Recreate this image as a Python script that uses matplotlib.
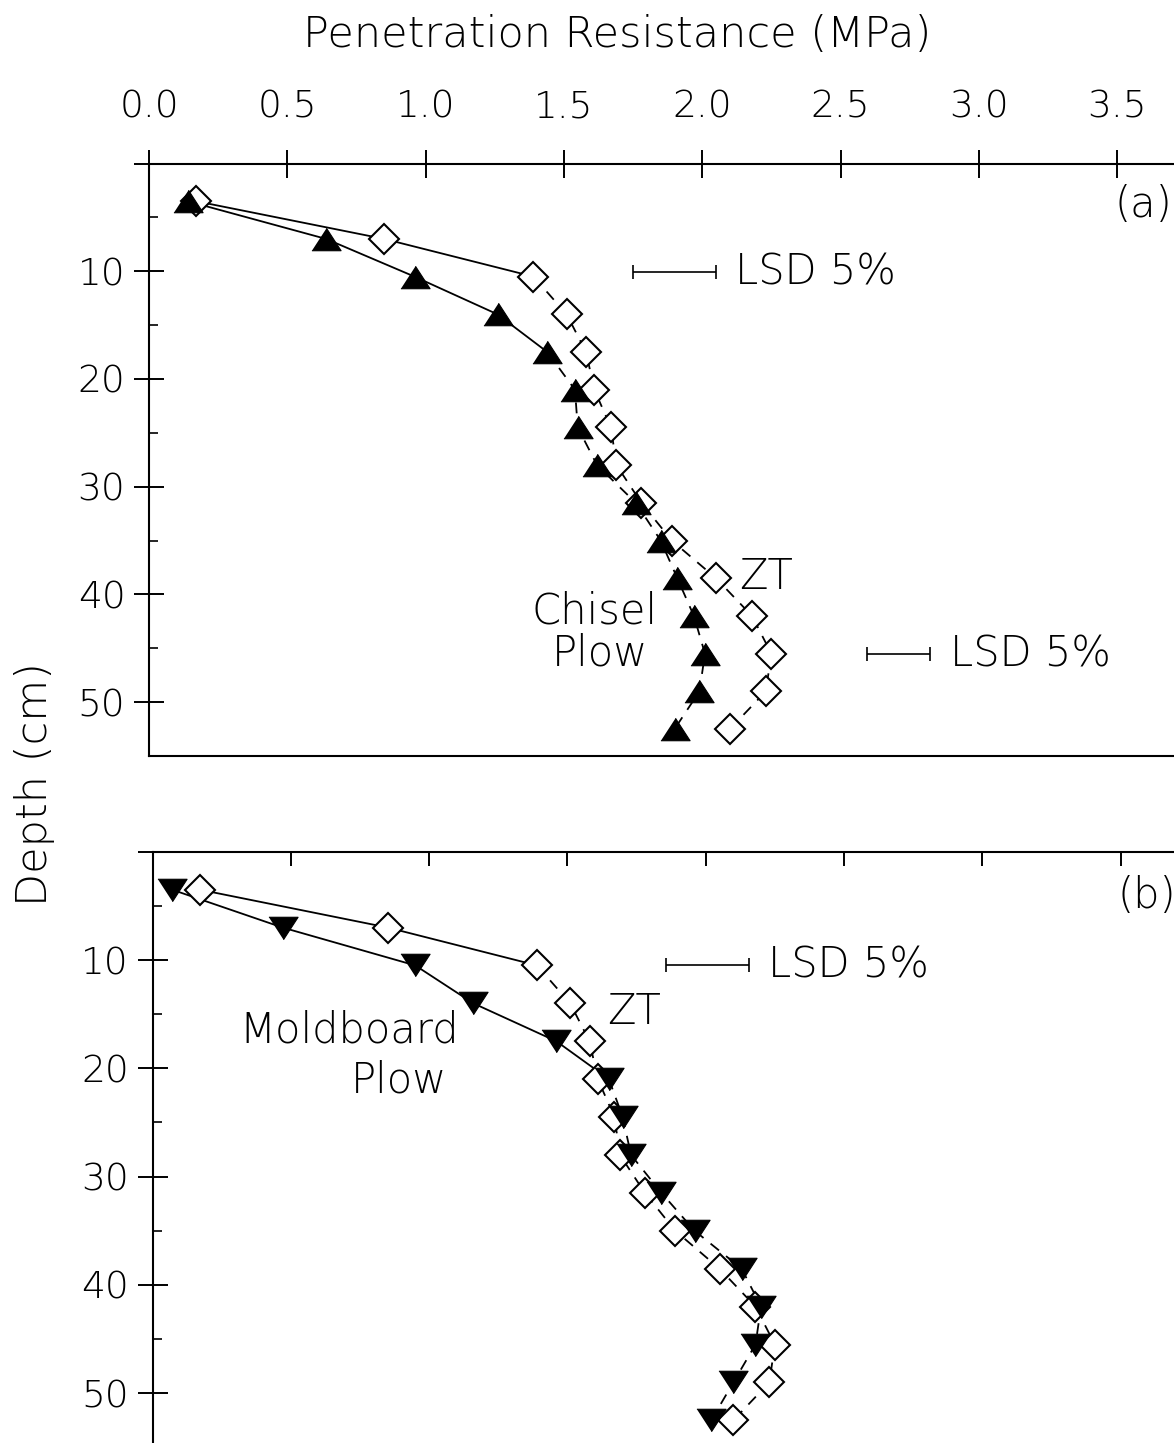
import matplotlib.pyplot as plt
import numpy as np

# Sampling depths (cm) and cone penetration resistance (MPa)
depth = [3.5, 7.0, 10.5, 14.0, 17.5, 21.0, 24.5, 28.0, 31.5, 35.0, 38.5, 42.0, 45.5, 49.0, 52.5]
zt = [0.17, 0.85, 1.39, 1.51, 1.58, 1.61, 1.67, 1.69, 1.78, 1.89, 2.05, 2.18, 2.25, 2.23, 2.10]
chisel = [0.14, 0.64, 0.96, 1.26, 1.44, 1.54, 1.55, 1.62, 1.76, 1.85, 1.91, 1.97, 2.01, 1.99, 1.90]
moldboard = [0.07, 0.47, 0.95, 1.16, 1.46, 1.65, 1.70, 1.73, 1.84, 1.96, 2.13, 2.20, 2.18, 2.10, 2.02]

# number of leading points joined by a solid line (rest dashed)
zt_solid = 3
chisel_solid = 5
moldboard_solid = 6

# LSD (5%) bars: (left end, length, depth)
lsd_a = [(1.75, 0.30, 10.1), (2.595, 0.23, 45.5)]
lsd_b = [(1.855, 0.30, 10.5)]

x_ticks = [0.0, 0.5, 1.0, 1.5, 2.0, 2.5, 3.0, 3.5, 4.0]
x_labels = ["0.0", "0.5", "1.0", "1.5", "2.0", "2.5", "3.0", "3.5", ""]
y_ticks = [0, 10, 20, 30, 40, 50]
y_labels = ["", "10", "20", "30", "40", "50"]

plt.rcParams["font.family"] = ["DejaVu Sans"]
plt.rcParams["font.weight"] = "light"

W, H = 1174, 1443
fig = plt.figure(figsize=(W / 100, H / 100), dpi=100)

px_per_mpa = 276.6
ax_a = fig.add_axes([149 / W, 1 - 756 / H, 4.0 * px_per_mpa / W, (756 - 163.5) / H])
ax_b = fig.add_axes([152.5 / W, 1 - 1447.4 / H, 4.0 * px_per_mpa / W, (1447.4 - 851.7) / H])

TXT = 30
LABEL = 31
TICK = 27
LW = 1.3
dash = (0, (6, 5))


def draw_profile(ax, x, solid_n, marker, filled):
    ax.plot(x[:solid_n], depth[:solid_n], color="black", lw=LW, zorder=1)
    ax.plot(x[solid_n - 1:], depth[solid_n - 1:], color="black", lw=LW,
            linestyle=dash, zorder=1)
    if filled:
        ax.plot(x, depth, linestyle="none", marker=marker, ms=21,
                mfc="black", mec="black", mew=0.8, zorder=3)
    else:
        ax.plot(x, depth, linestyle="none", marker=marker, ms=15,
                mfc="white", mec="black", mew=1.5, zorder=2)


tri_up = [(-1, -0.77), (1, -0.77), (0, 0.77)]
tri_down = [(-1, 0.77), (1, 0.77), (0, -0.77)]

draw_profile(ax_a, zt, zt_solid, "D", False)
draw_profile(ax_a, chisel, chisel_solid, tri_up, True)
draw_profile(ax_b, zt, zt_solid, "D", False)
draw_profile(ax_b, moldboard, moldboard_solid, tri_down, True)

for ax, bars in ((ax_a, lsd_a), (ax_b, lsd_b)):
    for x0, lsd, d in bars:
        ax.errorbar(x0 + lsd / 2, d, xerr=lsd / 2, fmt="none", ecolor="black",
                    elinewidth=1.2, capsize=5, capthick=1.2)
        ax.text(x0 + lsd + 0.07, d, "LSD 5%", fontsize=TXT, ha="left", va="center")

for ax in (ax_a, ax_b):
    ax.set_xlim(0, 4.0)
    ax.set_ylim(55, 0)
    ax.set_xticks(x_ticks)
    ax.set_yticks(y_ticks)
    ax.set_yticklabels(y_labels)
    ax.set_yticks(np.arange(5, 55, 10), minor=True)
    ax.spines["right"].set_visible(False)
    for s in ax.spines.values():
        s.set_linewidth(1.5)
    ax.tick_params(axis="y", which="major", direction="inout", length=22, width=1.4,
                   labelsize=TICK, pad=6)
    ax.tick_params(axis="y", which="minor", direction="in", length=6.5, width=1.2)
    ax.xaxis.set_ticks_position("top")

ax_a.set_xticklabels(x_labels)
ax_a.tick_params(axis="x", direction="inout", length=20, width=1.4, labelsize=TICK,
                 top=True, bottom=False, labeltop=True, labelbottom=False, pad=18)
ax_b.spines["bottom"].set_visible(False)
ax_b.tick_params(axis="x", direction="in", length=10, width=1.4, top=True, bottom=False,
                 labeltop=False, labelbottom=False)

# Panel annotations
ax_a.text(3.49, 3.8, "(a)", fontsize=TXT, ha="left", va="center")
ax_a.text(2.23, 38.3, "ZT", fontsize=TXT, ha="center", va="center")
ax_a.text(1.61, 41.5, "Chisel", fontsize=TXT, ha="center", va="center")
ax_a.text(1.63, 45.4, "Plow", fontsize=TXT, ha="center", va="center")

ax_b.text(3.49, 4.0, "(b)", fontsize=TXT, ha="left", va="center")
ax_b.text(1.74, 14.8, "ZT", fontsize=TXT, ha="center", va="center")
ax_b.text(0.71, 16.5, "Moldboard", fontsize=TXT, ha="center", va="center")
ax_b.text(0.89, 21.1, "Plow", fontsize=TXT, ha="center", va="center")

fig.text(617 / W, 1 - 35 / H, "Penetration Resistance (MPa)", fontsize=LABEL,
         ha="center", va="center")
fig.text(35 / W, 1 - 784 / H, "Depth (cm)", fontsize=LABEL, rotation=90,
         ha="center", va="center")

fig.savefig("out.png", dpi=100)
